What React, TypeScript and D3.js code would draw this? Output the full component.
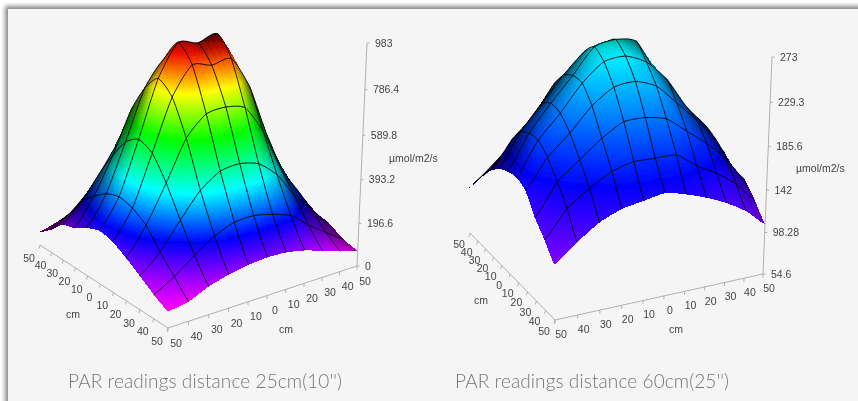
import React, { useEffect, useRef } from "react";
import * as d3 from "d3";

// rows run from the front edge (j=0) to the back edge; columns from the front corner to the right corner
const par25: number[][] = [
  [71, 85, 123, 147, 163, 170, 166, 149, 121, 93, 71],
  [105, 155, 220, 278, 313, 318, 300, 270, 203, 146, 92],
  [148, 225, 337, 441, 501, 512, 490, 420, 304, 218, 132],
  [190, 305, 463, 632, 715, 725, 704, 581, 397, 273, 150],
  [225, 346, 560, 777, 895, 875, 889, 750, 516, 318, 159],
  [238, 363, 590, 830, 965, 945, 970, 800, 560, 340, 165],
  [216, 344, 550, 764, 873, 850, 800, 700, 500, 300, 150],
  [181, 300, 462, 650, 720, 710, 660, 560, 400, 250, 130],
  [163, 247, 360, 480, 530, 530, 490, 410, 300, 190, 110],
  [105, 160, 240, 320, 360, 360, 330, 280, 210, 140, 90],
  [62, 90, 130, 170, 190, 195, 180, 160, 120, 90, 70],
];
const par60: number[][] = [
  [108, 125, 140, 149, 153, 157, 152, 145, 136, 124, 107],
  [123, 149, 164, 177, 183, 183, 183, 169, 158, 144, 124],
  [136, 166, 184, 201, 214, 215, 211, 196, 181, 162, 138],
  [154, 182, 202, 225, 240, 243, 236, 217, 197, 175, 141],
  [159, 191, 214, 240, 258, 261, 253, 234, 204, 182, 152],
  [157, 191, 217, 241, 266, 271, 267, 232, 202, 179, 153],
  [152, 185, 210, 235, 256, 262, 258, 239, 208, 179, 149],
  [143, 171, 191, 221, 234, 240, 238, 225, 198, 170, 142],
  [130, 150, 175, 200, 215, 220, 218, 205, 182, 155, 128],
  [117, 135, 155, 175, 190, 195, 193, 180, 160, 135, 115],
  [102, 118, 135, 150, 160, 165, 163, 152, 138, 118, 100],
];
const cmLabels = [50, 40, 30, 20, 10, 0, 10, 20, 30, 40, 50];
const zTicks25 = ["0", "196.6", "393.2", "589.8", "786.4", "983"];
const zTicks60 = ["54.6", "98.28", "142", "185.6", "229.3", "273"];
const stops25 = [70, 260, 430, 620, 790, 930, 990];
const stops60 = [50, 165, 268, 290, 310, 330, 350];
const rampColors = ["#ff00ff", "#0000ff", "#00ffff", "#00ff00", "#ffff00", "#ff1000", "#a00000"];

type Pt = [number, number];
interface Cfg {
  data: number[][];
  zLo: number;
  zHi: number;
  stops: number[];
  zLabels: string[];
  O: Pt;
  R: Pt;
  L: Pt;
  Top: Pt;
  title: string;
  titleX: number;
  unit: Pt;
  cmFront: Pt;
  cmLeft: Pt;
  offFront: Pt;
  offLeft: Pt;
  zOff: number;
}
const charts: Cfg[] = [
  {
    data: par25, zLo: 0, zHi: 983, stops: stops25, zLabels: zTicks25,
    O: [168, 328], R: [357, 266], L: [40, 245], Top: [367, 43],
    title: "PAR readings distance 25cm(10'')", titleX: 68, unit: [389, 162],
    cmFront: [286, 329], cmLeft: [73, 314], offFront: [8, 15], offLeft: [-11, 13], zOff: 8,
  },
  {
    data: par60, zLo: 54.6, zHi: 273, stops: stops60, zLabels: zTicks60,
    O: [555, 320], R: [763, 274], L: [470, 233], Top: [772, 57],
    title: "PAR readings distance 60cm(25'')", titleX: 455, unit: [796, 172],
    cmFront: [676, 329], cmLeft: [481, 300], offFront: [6, 14], offLeft: [-11, 11], zOff: 8,
  },
];
const PU = 0.1, PV = 0.12, PH = -0.06;

// Catmull-Rom through four samples (surface rendering only, nodes stay exact)
function card(p0: number, p1: number, p2: number, p3: number, t: number) {
  const m1 = (p2 - p0) / 2, m2 = (p3 - p1) / 2;
  const t2 = t * t, t3 = t2 * t;
  return (2 * t3 - 3 * t2 + 1) * p1 + (t3 - 2 * t2 + t) * m1 + (-2 * t3 + 3 * t2) * p2 + (t3 - t2) * m2;
}
const SMOOTH = 0.55;

function drawChart(root: d3.Selection<SVGGElement, unknown, null, undefined>, c: Cfg) {
  const N = c.data.length - 1;
  const gridPos = d3.scaleLinear().domain([0, N]).range([0, 1]);
  const zScale = d3.scaleLinear().domain([c.zLo, c.zHi]).range([0, 1]);
  const color = d3.scaleLinear<string>().domain(c.stops).range(rampColors).interpolate(d3.interpolateRgb).clamp(true);
  const T: Pt = [0, 1].map(
    (k) => (c.Top[k] * (1 + PU + PH) - (1 + PU) * c.R[k] + c.O[k]) / (1 + PH)
  ) as Pt;
  const project = (u: number, v: number, h: number): Pt => {
    const w = 1 + PU * u + PV * v + PH * h;
    return [0, 1].map(
      (k) =>
        (c.O[k] + u * ((1 + PU) * c.R[k] - c.O[k]) + v * ((1 + PV) * c.L[k] - c.O[k]) + h * ((1 + PH) * T[k] - c.O[k])) / w
    ) as Pt;
  };
  const U = [c.R[0] - c.O[0], c.R[1] - c.O[1]];
  const V = [c.L[0] - c.O[0], c.L[1] - c.O[1]];
  const H = [c.Top[0] - c.R[0], c.Top[1] - c.R[1]];
  let d = [V[0] * H[1] - H[0] * V[1], H[0] * U[1] - U[0] * H[1], U[0] * V[1] - V[0] * U[1]];
  if (d[2] < 0) d = d.map((x) => -x);
  const dl = Math.hypot(d[0], d[1], d[2]);
  d = d.map((x) => x / dl);

  const cl = (k: number) => Math.max(0, Math.min(N, k));
  const val = (i: number, j: number) => c.data[cl(j)][cl(i)];
  const hAt = (i: number, j: number) => zScale(val(i, j));
  const shade: number[][] = d3.range(N + 1).map((j) =>
    d3.range(N + 1).map((i) => {
      const du = gridPos(cl(i + 1)) - gridPos(cl(i - 1));
      const dv = gridPos(cl(j + 1)) - gridPos(cl(j - 1));
      const fu = (hAt(i + 1, j) - hAt(i - 1, j)) / du;
      const fv = (hAt(i, j + 1) - hAt(i, j - 1)) / dv;
      const cos = (-fu * d[0] - fv * d[1] + d[2]) / Math.hypot(fu, fv, 1);
      return Math.max(0.3, Math.min(1, cos / 0.65));
    })
  );
  const bil = (m: number[][], i: number, j: number, s: number, t: number) =>
    (1 - t) * ((1 - s) * m[j][i] + s * m[j][i + 1]) + t * ((1 - s) * m[j + 1][i] + s * m[j + 1][i + 1]);
  const surfVal = (i: number, j: number, s: number, t: number) => {
    const r = [-1, 0, 1, 2].map((dj) => card(val(i - 1, j + dj), val(i, j + dj), val(i + 1, j + dj), val(i + 2, j + dj), s));
    return SMOOTH * card(r[0], r[1], r[2], r[3], t) + (1 - SMOOTH) * bil(c.data, i, j, s, t);
  };

  const surf = root.append("g");
  const cells: [number, number][] = [];
  d3.range(N).forEach((j) => d3.range(N).forEach((i) => cells.push([i, j])));
  cells.sort((a, b) => b[0] + b[1] - (a[0] + a[1]));
  const poly = (pts: Pt[]) => pts.map((p) => p[0].toFixed(2) + "," + p[1].toFixed(2)).join("L");

  for (const [i, j] of cells) {
    const hs = [hAt(i, j), hAt(i + 1, j), hAt(i, j + 1), hAt(i + 1, j + 1)];
    const pxS = Math.max(Math.abs(hs[1] - hs[0]), Math.abs(hs[3] - hs[2])) * 223;
    const pxT = Math.max(Math.abs(hs[2] - hs[0]), Math.abs(hs[3] - hs[1])) * 223;
    const ns = Math.max(4, Math.min(24, Math.ceil(pxS / 1.5)));
    const nt = Math.max(4, Math.min(24, Math.ceil(pxT / 1.5)));
    const u0 = gridPos(i), u1 = gridPos(i + 1), v0 = gridPos(j), v1 = gridPos(j + 1);
    const P = (s: number, t: number) =>
      project(u0 + s * (u1 - u0), v0 + t * (v1 - v0), zScale(surfVal(i, j, s, t)));
    for (let b = nt - 1; b >= 0; b--) {
      for (let a = ns - 1; a >= 0; a--) {
        const s0 = a / ns, s1 = (a + 1) / ns, t0 = b / nt, t1 = (b + 1) / nt;
        const v = surfVal(i, j, (s0 + s1) / 2, (t0 + t1) / 2);
        const br = bil(shade, i, j, (s0 + s1) / 2, (t0 + t1) / 2);
        const col = d3.rgb(color(v));
        const f = d3.rgb(col.r * br, col.g * br, col.b * br).formatRgb();
        surf.append("path")
          .attr("d", "M" + poly([P(s0, t0), P(s1, t0), P(s1, t1), P(s0, t1)]) + "Z")
          .attr("fill", f).attr("shape-rendering", "crispEdges");
      }
    }
    const ln = (pts: Pt[]) =>
      surf.append("path").attr("d", "M" + poly(pts)).attr("fill", "none")
        .attr("stroke", "#050505").attr("stroke-width", 0.9);
    if (i + 1 < N) ln(d3.range(nt + 1).map((k) => P(1, k / nt)));
    if (j + 1 < N) ln(d3.range(ns + 1).map((k) => P(k / ns, 1)));
  }

  // axes
  const axis = root.append("g").attr("stroke", "#a8a8a8").attr("stroke-width", 0.9).attr("fill", "none");
  const addLine = (a: Pt, b: Pt) =>
    axis.append("line").attr("x1", a[0]).attr("y1", a[1]).attr("x2", b[0]).attr("y2", b[1]);
  addLine(project(0, 0, 0), project(1, 0, 0));
  addLine(project(0, 0, 0), project(0, 1, 0));
  addLine(project(1, 0, 0), project(1, 0, 1));
  const text = root.append("g").attr("font-family", "'Liberation Sans', Arial, sans-serif").attr("font-size", 10.5).attr("fill", "#444");
  cmLabels.forEach((lab, k) => {
    const t = gridPos(k);
    const a = project(t, 0, 0);
    addLine(a, [a[0], a[1] + 3.5]);
    text.append("text").attr("x", a[0] + c.offFront[0]).attr("y", a[1] + c.offFront[1]).attr("dy", "0.35em").attr("text-anchor", "middle").text(lab);
    const b = project(0, t, 0);
    addLine(b, [b[0] - 1, b[1] + 3.5]);
    text.append("text").attr("x", b[0] + c.offLeft[0]).attr("y", b[1] + c.offLeft[1]).attr("dy", "0.35em").attr("text-anchor", "middle").text(lab);
  });
  c.zLabels.forEach((lab, k) => {
    const a = project(1, 0, k / (c.zLabels.length - 1));
    addLine(a, [a[0] + 2.5, a[1]]);
    text.append("text").attr("x", a[0] + c.zOff).attr("y", a[1]).attr("dy", "0.35em").attr("text-anchor", "start").text(lab);
  });
  text.append("text").attr("x", c.cmFront[0]).attr("y", c.cmFront[1]).attr("dy", "0.35em").attr("text-anchor", "middle").text("cm");
  text.append("text").attr("x", c.cmLeft[0]).attr("y", c.cmLeft[1]).attr("dy", "0.35em").attr("text-anchor", "middle").text("cm");
  text.append("text").attr("x", c.unit[0]).attr("y", c.unit[1]).attr("font-size", 10.5).text("\u00b5mol/m2/s");
  root.append("text").attr("x", c.titleX).attr("y", 388)
    .attr("font-family", "Lato, 'Liberation Sans', sans-serif").attr("font-weight", 300).attr("font-size", 19).attr("fill", "#777")
    .attr("textLength", 274).attr("lengthAdjust", "spacing").text(c.title);
}

export default function App() {
  const ref = useRef<SVGSVGElement>(null);
  useEffect(() => {
    const svg = d3.select(ref.current as SVGSVGElement);
    svg.selectAll("g.charts").remove();
    const g = svg.append("g").attr("class", "charts").attr("filter", "url(#soft)") as any;
    charts.forEach((c) => drawChart(g.append("g"), c));
  }, []);
  return (
    <svg ref={ref} width={858} height={401} style={{ position: "absolute", left: 0, top: 0, background: "#fff" }}>
      <defs>
        <filter id="shadow" x="-2%" y="-5%" width="104%" height="110%">
          <feGaussianBlur stdDeviation="2" />
        </filter>
        <filter id="soft" x="0" y="0" width="100%" height="100%">
          <feGaussianBlur stdDeviation="0.45" />
        </filter>
      </defs>
      <rect x={5} y={6} width={870} height={420} fill="#8a8a8a" filter="url(#shadow)" />
      <rect x={8} y={9} width={860} height={400} fill="#f5f5f5" />
    </svg>
  );
}
